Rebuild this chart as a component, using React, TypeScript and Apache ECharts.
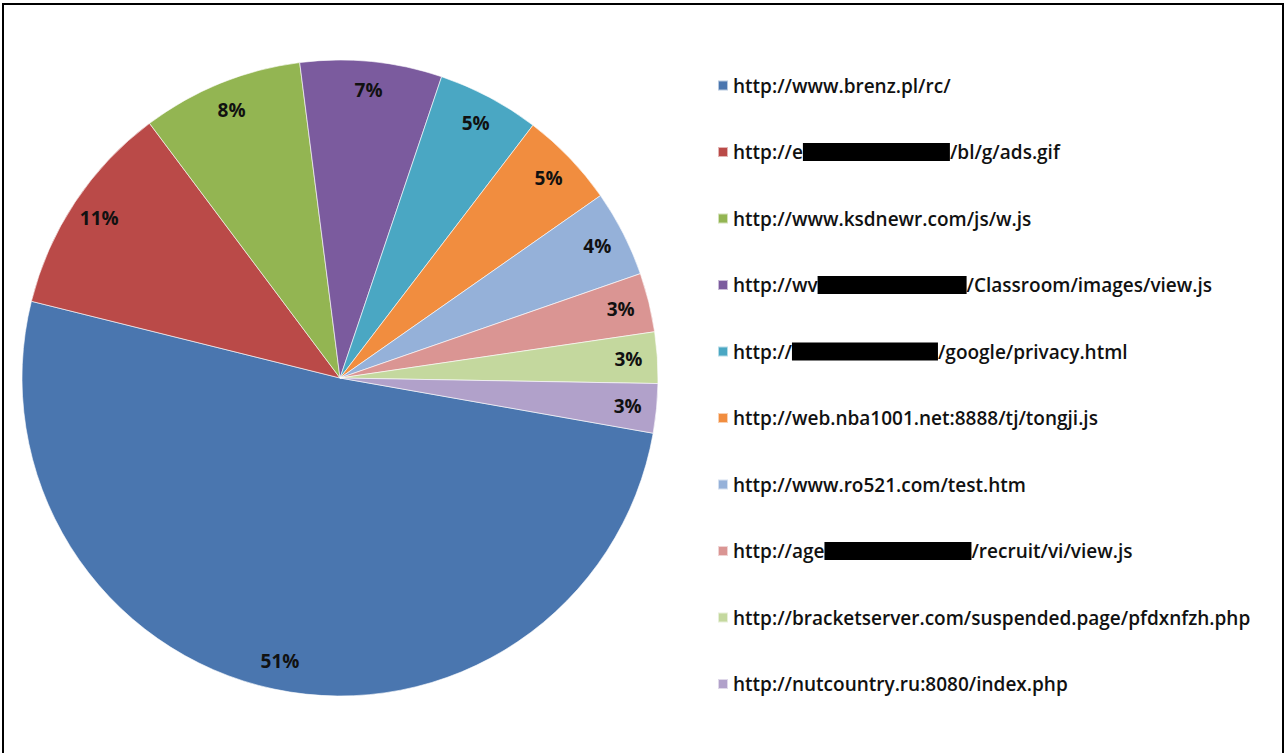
import React, { useEffect, useRef } from "react";
import * as echarts from "echarts";

// Legend labels: visible prefix, redacted width (px, 0 = none), visible suffix
const urlPrefixes = [
  "http://www.brenz.pl/rc/",
  "http://e",
  "http://www.ksdnewr.com/js/w.js",
  "http://wv",
  "http://",
  "http://web.nba1001.net:8888/tj/tongji.js",
  "http://www.ro521.com/test.htm",
  "http://age",
  "http://bracketserver.com/suspended.page/pfdxnfzh.php",
  "http://nutcountry.ru:8080/index.php",
];
const urlSuffixes = ["", "/bl/g/ads.gif", "", "/Classroom/images/view.js", "/google/privacy.html", "", "", "/recruit/vi/view.js", "", ""];
const redactWidths = [0, 147, 0, 149, 146, 0, 0, 147, 0, 0];
const shares = [51.1, 10.9, 8.2, 7.2, 5.2, 4.9, 4.4, 3.0, 2.6, 2.5];
const colors = ["#4A76AF", "#BA4A48", "#93B552", "#7B5B9E", "#4AA7C3", "#F18D3F", "#95B1D9", "#DA9593", "#C4D89E", "#B1A1CA"];

const names = urlPrefixes.map((p, i) => p + (redactWidths[i] ? "\u2026" : "") + urlSuffixes[i]);

export default function App() {
  const ref = useRef<HTMLDivElement>(null);
  useEffect(() => {
    document.body.style.margin = "0";
    const chart = echarts.init(ref.current!, null, { renderer: "svg" });
    const data = names.map((n, i) => ({ name: n, value: shares[i], itemStyle: { color: colors[i] } }));
    const font = "'Open Sans', 'DejaVu Sans', sans-serif";
    chart.setOption({
      animation: false,
      backgroundColor: "#ffffff",
      legend: {
        orient: "vertical",
        left: 712,
        top: 71,
        itemWidth: 10,
        itemHeight: 10,
        itemGap: 47.5,
        icon: "rect",
        selectedMode: false,
        data: names,
        formatter: (name: string) => {
          const i = names.indexOf(name);
          if (!redactWidths[i]) return "{t|" + urlPrefixes[i] + "}";
          return "{t|" + urlPrefixes[i] + "}{r" + i + "| }{t|" + urlSuffixes[i] + "}";
        },
        textStyle: {
          fontFamily: font,
          fontSize: 19,
          fontWeight: 600,
          color: "#111",
          rich: Object.assign(
            { t: { fontFamily: font, fontSize: 19, fontWeight: 600, color: "#111", height: 22 } },
            ...redactWidths.map((w, i) => ({ ["r" + i]: { width: w, height: 18, backgroundColor: "#000" } }))
          ),
        },
      },
      graphic: [
        {
          type: "rect",
          shape: { x: 3, y: 4, width: 1280, height: 780 },
          style: { fill: "none", stroke: "#000", lineWidth: 2 },
          silent: true,
        },
      ],
      series: [
        {
          type: "pie",
          center: [340, 378],
          radius: 318,
          startAngle: -10,
          clockwise: true,
          avoidLabelOverlap: false,
          label: { show: false },
          labelLine: { show: false },
          itemStyle: { borderColor: "rgba(255,255,255,0.6)", borderWidth: 1 },
          emphasis: { disabled: true },
          data,
        },
        {
          type: "pie",
          center: [340, 378],
          radius: [254, 318],
          startAngle: -10,
          clockwise: true,
          silent: true,
          avoidLabelOverlap: false,
          percentPrecision: 0,
          itemStyle: { color: "rgba(0,0,0,0)", borderWidth: 0 },
          label: {
            show: true,
            position: "inside",
            formatter: "{d}%",
            fontFamily: font,
            fontWeight: "bold",
            fontSize: 19,
            color: "#111",
          },
          labelLine: { show: false },
          emphasis: { disabled: true },
          data: names.map((n, i) => ({ name: n, value: shares[i] })),
        },
      ],
    });
    return () => chart.dispose();
  }, []);
  return <div ref={ref} style={{ position: "absolute", left: 0, top: 0, width: 1287, height: 753 }} />;
}
